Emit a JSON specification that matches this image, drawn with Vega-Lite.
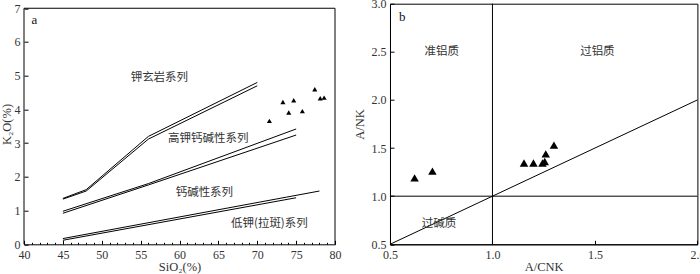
{
  "$schema": "https://vega.github.io/schema/vega-lite/v6.json",
  "padding": {"left": 0, "top": -3.3, "right": 0, "bottom": 0},
  "autosize": {"type": "pad"},
  "bounds": "flush",
  "spacing": 55,
  "config": {
    "view": {"stroke": "#000", "strokeWidth": 1},
    "axis": {
      "grid": false,
      "domainColor": "#000",
      "tickColor": "#000",
      "tickSize": -4,
      "labelFlush": false,
      "labelOverlap": false,
      "labelFont": "Liberation Serif",
      "labelFontSize": 12,
      "labelColor": "#333",
      "titleFont": "Liberation Serif",
      "titleFontSize": 12.5,
      "titleFontWeight": "normal",
      "titleColor": "#333"
    },
    "axisX": {"labelPadding": 9, "titlePadding": 0.5},
    "axisY": {"labelPadding": 8}
  },
  "hconcat": [
    {
      "width": 311,
      "height": 240.6,
      "view": {"stroke": null},
      "resolve": {"axis": {"x": "independent"}},
      "layer": [
        {
          "data": {"values": [
            {"s": "1u", "o": 1, "x": 45, "y": 1.36},
            {"s": "1u", "o": 2, "x": 48, "y": 1.62},
            {"s": "1u", "o": 3, "x": 56, "y": 3.2},
            {"s": "1u", "o": 4, "x": 70, "y": 4.8},
            {"s": "1l", "o": 1, "x": 45, "y": 1.34},
            {"s": "1l", "o": 2, "x": 48, "y": 1.58},
            {"s": "1l", "o": 3, "x": 56, "y": 3.12},
            {"s": "1l", "o": 4, "x": 70, "y": 4.7},
            {"s": "2u", "o": 1, "x": 45, "y": 0.98},
            {"s": "2u", "o": 2, "x": 56, "y": 1.8},
            {"s": "2u", "o": 3, "x": 75, "y": 3.42},
            {"s": "2l", "o": 1, "x": 45, "y": 0.92},
            {"s": "2l", "o": 2, "x": 56, "y": 1.76},
            {"s": "2l", "o": 3, "x": 75, "y": 3.24},
            {"s": "3u", "o": 1, "x": 45, "y": 0.17},
            {"s": "3u", "o": 2, "x": 78, "y": 1.58},
            {"s": "3l", "o": 1, "x": 45, "y": 0.12},
            {"s": "3l", "o": 2, "x": 75, "y": 1.38}
          ]},
          "mark": {"type": "line", "stroke": "#000", "strokeWidth": 1},
          "encoding": {
            "x": {"field": "x", "type": "quantitative",
                  "scale": {"domain": [40, 80], "nice": false, "zero": false},
                  "axis": {"orient": "bottom", "values": [40, 45, 50, 55, 60, 65, 70, 75, 80], "title": "SiO₂(%)"}},
            "y": {"field": "y", "type": "quantitative",
                  "scale": {"domain": [0, 7.135], "nice": false, "zero": false},
                  "axis": {"values": [0, 1, 2, 3, 4, 5, 6, 7], "title": "K₂O(%)", "domain": false, "labelOverlap": false, "titlePadding": 1}},
            "detail": {"field": "s"},
            "order": {"field": "o"}
          }
        },
        {
          "data": {"values": [
            {"x1": 40, "y1": 0, "x2": 40, "y2": 7},
            {"x1": 80, "y1": 0, "x2": 80, "y2": 7},
            {"x1": 40, "y1": 7, "x2": 80, "y2": 7}
          ]},
          "mark": {"type": "rule", "color": "#000", "strokeWidth": 1},
          "encoding": {
            "x": {"field": "x1", "type": "quantitative", "axis": null},
            "y": {"field": "y1", "type": "quantitative",
                  "axis": {"values": [0, 1, 2, 3, 4, 5, 6, 7], "title": "K₂O(%)", "domain": false, "labelOverlap": false, "titlePadding": 1}},
            "x2": {"field": "x2"},
            "y2": {"field": "y2"}
          }
        },
        {
          "data": {"values": [
            {"x": 71.56, "y": 3.66},
            {"x": 73.3, "y": 4.22},
            {"x": 74.05, "y": 3.91},
            {"x": 74.69, "y": 4.27},
            {"x": 75.8, "y": 3.95},
            {"x": 77.4, "y": 4.6},
            {"x": 78.1, "y": 4.33},
            {"x": 78.6, "y": 4.35}
          ]},
          "mark": {"type": "point", "shape": "triangle-up", "filled": true, "color": "#000", "opacity": 1, "size": 26},
          "encoding": {
            "x": {"field": "x", "type": "quantitative",
                  "axis": {"orient": "bottom", "values": [41, 42, 43, 44, 46, 47, 48, 49, 51, 52, 53, 54, 56, 57, 58, 59, 61, 62, 63, 64, 66, 67, 68, 69, 71, 72, 73, 74, 76, 77, 78, 79],
                           "labels": false, "domain": false, "title": null, "tickSize": -2}},
            "y": {"field": "y", "type": "quantitative",
                  "axis": {"values": [0, 1, 2, 3, 4, 5, 6, 7], "title": "K₂O(%)", "domain": false, "labelOverlap": false, "titlePadding": 1}}
          }
        },
        {
          "data": {"values": [
            {"x": 57.41, "y": 4.92, "t": "钾玄岩系列"},
            {"x": 63.7, "y": 3.12, "t": "高钾钙碱性系列"},
            {"x": 63.2, "y": 1.52, "t": "钙碱性系列"},
            {"x": 71.56, "y": 0.59, "t": "低钾(拉斑)系列"}
          ]},
          "mark": {"type": "text", "font": "Noto Sans CJK SC", "fontSize": 11.5, "color": "#333", "align": "center", "baseline": "middle"},
          "encoding": {
            "x": {"field": "x", "type": "quantitative", "axis": null},
            "y": {"field": "y", "type": "quantitative",
                  "axis": {"values": [0, 1, 2, 3, 4, 5, 6, 7], "title": "K₂O(%)", "domain": false, "labelOverlap": false, "titlePadding": 1}},
            "text": {"field": "t"}
          }
        },
        {
          "data": {"values": [{"x": 41.34, "y": 6.65, "t": "a"}]},
          "mark": {"type": "text", "font": "Liberation Serif", "fontSize": 13, "color": "#111", "align": "center", "baseline": "middle"},
          "encoding": {
            "x": {"field": "x", "type": "quantitative", "axis": null},
            "y": {"field": "y", "type": "quantitative",
                  "axis": {"values": [0, 1, 2, 3, 4, 5, 6, 7], "title": "K₂O(%)", "domain": false, "labelOverlap": false, "titlePadding": 1}},
            "text": {"field": "t"}
          }
        }
      ]
    },
    {
      "width": 307.4,
      "height": 240.6,
      "layer": [
        {
          "data": {"values": [
            {"x1": 1, "y1": 0.5, "x2": 1, "y2": 3},
            {"x1": 0.5, "y1": 1, "x2": 2, "y2": 1},
            {"x1": 0.5, "y1": 0.5, "x2": 2, "y2": 2}
          ]},
          "mark": {"type": "rule", "color": "#000", "strokeWidth": 1},
          "encoding": {
            "x": {"field": "x1", "type": "quantitative",
                  "scale": {"domain": [0.5, 2], "nice": false, "zero": false},
                  "axis": {"values": [0.5, 1, 1.5, 2], "format": ".1f", "title": "A/CNK"}},
            "y": {"field": "y1", "type": "quantitative",
                  "scale": {"domain": [0.5, 3], "nice": false, "zero": false},
                  "axis": {"values": [0.5, 1, 1.5, 2, 2.5, 3], "format": ".1f", "title": "A/NK"}},
            "x2": {"field": "x2"},
            "y2": {"field": "y2"}
          }
        },
        {
          "data": {"values": [
            {"x": 0.62, "y": 1.19},
            {"x": 0.707, "y": 1.26},
            {"x": 1.154, "y": 1.345},
            {"x": 1.2, "y": 1.345},
            {"x": 1.244, "y": 1.345},
            {"x": 1.255, "y": 1.36},
            {"x": 1.26, "y": 1.44},
            {"x": 1.3, "y": 1.53}
          ]},
          "mark": {"type": "point", "shape": "triangle-up", "filled": true, "color": "#000", "opacity": 1, "size": 72},
          "encoding": {
            "x": {"field": "x", "type": "quantitative"},
            "y": {"field": "y", "type": "quantitative"}
          }
        },
        {
          "data": {"values": [
            {"x": 0.752, "y": 2.5, "t": "准铝质"},
            {"x": 1.512, "y": 2.5, "t": "过铝质"},
            {"x": 0.739, "y": 0.714, "t": "过碱质"}
          ]},
          "mark": {"type": "text", "font": "Noto Sans CJK SC", "fontSize": 11.5, "color": "#333", "align": "center", "baseline": "middle"},
          "encoding": {
            "x": {"field": "x", "type": "quantitative"},
            "y": {"field": "y", "type": "quantitative"},
            "text": {"field": "t"}
          }
        },
        {
          "data": {"values": [{"x": 0.56, "y": 2.86, "t": "b"}]},
          "mark": {"type": "text", "font": "Liberation Serif", "fontSize": 13, "color": "#111", "align": "center", "baseline": "middle"},
          "encoding": {
            "x": {"field": "x", "type": "quantitative"},
            "y": {"field": "y", "type": "quantitative"},
            "text": {"field": "t"}
          }
        }
      ]
    }
  ]
}
